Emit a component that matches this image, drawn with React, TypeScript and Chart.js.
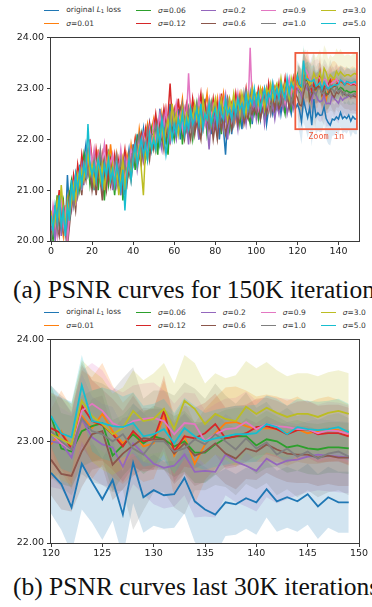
import React, { useEffect, useRef } from "react";
import { Chart, registerables } from "chart.js";
Chart.register(...registerables);

// ---------- series metadata ----------
const seriesColors = ["#1f77b4", "#ff7f0e", "#2ca02c", "#d62728", "#9467bd", "#8c564b", "#e377c2", "#7f7f7f", "#bcbd22", "#17becf"];
const sigmaLabels = ["", "0.01", "0.06", "0.12", "0.2", "0.6", "0.9", "1.0", "3.0", "5.0"];

// ---------- ticks ----------
const xTicksTop = [0, 20, 40, 60, 80, 100, 120, 140];
const yTicksTop = [20, 21, 22, 23, 24];
const xTicksBottom = [120, 125, 130, 135, 140, 145, 150];
const yTicksBottom = [22, 23, 24];
const zoomBox = { x0: 119, x1: 149, y0: 22.2, y1: 23.7, labelY: 22.05 };

// ---------- iterations 0..119 (top chart only) ----------
const earlyBlue = [20.0,20.4,20.1,20.7,20.3,20.9,20.5,20.2,21.3,20.6, 21.1,20.8,21.3,21.0,21.5,21.1,21.6,21.9,21.5,21.2, 21.5,21.0,21.6,21.3,21.7,21.1,21.5,21.2,21.8,21.3, 21.1,21.6,21.2,21.0,21.5,21.3,20.9,21.5,21.8,21.4, 21.9,21.5,22.1,21.7,21.9,22.2,21.6,22.0,22.3,21.8, 22.1,22.4,21.9,22.6,22.2,22.5,21.9,22.3,22.7,22.1, 22.4,22.1,22.6,22.0,22.5,22.3,22.7,22.1,22.4,22.6, 22.2,22.5,22.0,22.6,22.3,22.8,22.2,22.5,22.1,22.6, 22.3,22.7,22.0,22.5,22.2,21.7,22.4,22.6,22.1,22.5, 22.7,22.3,22.6,22.2,22.8,22.4,22.6,22.9,22.3,22.7, 22.5,22.8,22.4,22.7,22.9,22.3,22.6,22.8,22.5,22.7, 22.6,22.9,22.5,22.8,22.6,22.9,22.7,22.5,22.8,22.6];
const earlyOrange = [20.3,20.1,20.6,20.2,20.8,20.4,20.1,20.7,20.3,21.0, 20.7,21.2,20.9,21.4,21.2,21.6,21.3,21.5,21.8,21.4, 21.2,21.6,21.3,21.8,21.4,21.6,21.1,21.7,21.4,21.9, 21.5,21.2,21.7,21.4,21.1,21.6,21.3,21.7,21.5,21.9, 21.6,22.0,21.7,22.2,21.9,21.6,22.1,22.3,21.9,22.2, 22.4,22.0,22.3,21.9,22.5,22.2,22.6,22.3,22.0,22.6, 22.3,22.7,22.2,22.5,22.8,22.3,22.5,22.2,22.7,22.4, 22.6,22.3,22.7,22.4,22.2,22.6,22.9,22.4,22.6,22.3, 22.5,22.8,22.4,22.6,22.9,22.5,22.3,22.7,22.5,22.8, 22.4,22.7,22.9,22.5,22.7,22.4,22.8,22.6,23.0,22.6, 22.8,22.6,22.9,23.0,22.7,22.9,22.6,23.0,22.8,22.7, 22.9,22.7,23.0,22.8,23.1,22.8,22.9,23.1,22.8,23.0];
const earlyGreen = [20.4,20.0,20.5,20.9,20.3,20.6,20.8,20.2,20.6,20.9, 21.2,20.9,21.1,21.4,21.0,21.3,21.7,21.4,21.6,21.1, 21.4,21.2,21.7,21.0,21.5,21.3,20.8,21.4,21.1,21.6, 21.3,20.9,21.4,21.2,21.6,20.8,21.2,21.5,21.3,21.7, 21.8,21.4,22.0,21.7,22.1,21.8,21.6,22.0,21.8,22.2, 21.9,22.2,21.7,22.4,22.0,22.3,22.1,21.7,22.4,22.2, 22.0,22.5,22.2,22.6,21.9,22.4,22.2,22.6,22.3,22.0, 22.4,22.7,22.2,22.5,22.3,22.6,22.1,22.4,22.7,22.2, 22.6,22.3,22.5,22.1,22.6,22.4,22.7,22.2,22.5,22.3, 22.6,22.8,22.3,22.6,22.4,22.7,22.5,22.3,22.8,22.5, 22.7,22.4,22.8,22.6,22.4,22.9,22.6,22.8,22.7,22.5, 22.8,22.6,22.9,22.7,22.5,22.9,22.8,22.6,22.9,23.0];
const earlyRed = [20.1,20.5,20.2,20.6,21.0,20.4,20.7,20.3,20.8,20.5, 20.9,21.3,21.0,21.5,21.2,21.7,21.4,21.6,21.3,22.0, 21.6,21.3,21.8,21.5,21.2,21.7,21.4,21.9,21.3,21.6, 21.4,21.7,21.3,21.6,21.2,21.5,21.8,21.4,21.6,21.3, 21.7,22.0,21.6,21.9,22.1,21.8,22.2,21.9,22.3,22.0, 22.2,22.5,22.1,22.4,22.2,22.6,22.3,22.5,23.1,22.4, 22.6,22.3,22.8,22.4,22.6,22.2,22.7,22.5,22.3,22.8, 22.5,22.3,22.6,22.9,22.4,22.7,22.3,22.6,22.5,22.8, 22.4,22.7,22.5,22.9,22.3,22.6,22.8,22.4,22.7,22.5, 22.9,22.6,22.8,22.5,22.7,23.0,22.6,22.8,22.5,22.9, 22.7,23.0,22.8,22.6,22.9,22.7,23.1,22.8,22.6,23.0, 22.8,23.1,22.7,22.9,23.2,22.8,23.0,22.9,23.2,22.9];
const earlyPurple = [20.2,20.6,20.0,20.5,20.7,20.1,20.6,20.4,20.2,20.8, 20.6,21.0,21.3,20.9,21.2,21.5,21.1,21.6,21.3,21.5, 21.1,21.5,21.2,21.6,21.3,21.0,21.5,21.2,21.6,21.4, 21.0,21.5,21.1,21.4,20.9,21.3,21.6,21.2,21.4,21.7, 21.5,21.8,21.4,21.7,22.0,21.6,21.9,21.7,22.1,21.8, 22.0,21.8,22.3,22.0,21.8,22.4,22.1,22.3,21.9,22.5, 22.2,22.0,22.4,22.2,22.6,22.1,22.3,21.9,22.5,22.2, 22.3,22.6,22.0,22.4,22.2,22.5,22.3,21.8,22.4,22.2, 22.5,22.1,22.4,22.6,22.2,22.5,22.0,22.4,22.6,22.3, 22.5,22.2,22.7,22.4,22.6,22.3,22.7,22.5,22.4,22.8, 22.4,22.7,22.5,22.8,22.3,22.6,22.8,22.5,22.7,22.4, 22.7,22.5,22.8,22.6,22.9,22.5,22.7,22.9,22.6,22.8];
const earlyBrown = [20.5,20.2,20.7,20.3,20.1,20.6,20.2,20.5,19.9,20.3, 20.7,20.9,20.6,21.1,21.3,20.9,21.4,21.2,21.7,21.4, 21.0,21.3,20.9,21.4,21.2,20.8,21.3,21.0,21.5,21.1, 21.4,21.0,21.6,21.2,21.4,21.0,21.3,21.1,21.5,21.2, 21.6,21.8,21.5,21.7,21.5,22.0,21.7,21.9,21.6,22.0, 21.8,22.1,22.3,21.9,22.1,21.8,22.2,22.0,22.4,22.1, 22.3,22.1,22.4,22.6,22.2,22.0,22.4,22.2,22.0,22.5, 22.1,22.4,22.2,22.0,22.5,22.3,22.6,22.2,22.4,22.0, 22.3,22.0,22.4,22.2,22.5,22.1,22.3,22.5,22.2,22.4, 22.6,22.3,22.5,22.7,22.3,22.5,22.4,22.7,22.5,22.6, 22.5,22.7,22.4,22.6,22.8,22.5,22.7,22.6,22.9,22.6, 22.8,22.6,22.7,23.0,22.7,22.9,22.6,22.8,22.7,22.9];
const earlyPink = [20.3,20.7,20.4,20.1,20.6,20.8,20.3,20.6,20.0,20.5, 20.8,21.1,20.7,21.2,21.4,21.0,21.5,21.3,21.6,21.9, 21.5,21.8,21.4,21.7,21.3,21.6,21.9,21.4,21.7,21.5, 21.7,21.3,21.6,21.4,21.8,21.4,21.2,21.6,21.4,21.8, 21.7,21.9,21.6,22.0,21.8,22.1,21.9,21.7,22.2,21.9, 22.3,22.0,22.2,22.5,22.1,22.3,22.6,22.2,22.4,22.6, 22.4,22.7,22.3,22.5,22.2,22.6,22.4,23.3,22.5,22.3, 22.6,22.4,22.8,22.5,22.7,22.3,22.6,22.8,22.4,22.7, 22.6,22.4,22.8,22.5,22.7,22.9,22.5,22.7,22.4,22.8, 22.6,22.9,22.5,22.8,22.6,22.9,22.6,23.8,22.7,22.9, 22.8,22.6,22.9,22.7,23.0,22.8,22.6,22.9,23.1,22.8, 23.0,22.8,23.1,22.9,22.7,23.0,23.2,22.9,23.1,23.0];
const earlyGray = [20.0,20.3,20.6,20.2,20.5,20.3,20.7,20.1,20.4,20.7, 21.0,20.7,21.2,20.9,21.3,21.1,21.4,21.7,21.3,21.5, 21.3,21.6,21.2,21.5,21.8,21.3,21.6,21.3,21.7,21.4, 21.2,21.5,21.7,21.3,21.6,21.2,21.5,21.3,21.7,21.5, 21.8,21.6,21.9,22.1,21.7,22.0,21.8,22.2,21.9,22.1, 22.1,22.3,22.0,22.2,22.4,22.0,22.3,22.1,22.5,22.3, 22.5,22.2,22.4,22.3,22.7,22.4,22.2,22.6,22.4,22.1, 22.5,22.7,22.3,22.5,22.8,22.4,22.6,22.3,22.7,22.5, 22.7,22.5,22.3,22.7,22.4,22.6,22.8,22.5,22.6,22.3, 22.7,22.5,22.8,22.4,22.9,22.6,22.8,22.5,22.7,22.9, 22.6,22.8,22.6,22.9,22.7,23.0,22.7,22.5,22.8,22.9, 22.7,22.9,23.0,22.7,22.9,22.8,23.0,22.7,22.9,23.1];
const earlyOlive = [20.6,20.2,20.4,20.8,20.5,21.1,20.6,20.3,20.8,20.5, 20.8,21.1,20.8,21.3,21.1,21.4,21.2,21.5,21.7,21.3, 21.5,21.1,21.4,21.6,21.2,21.5,21.0,21.4,21.7,21.2, 21.5,21.1,21.4,20.9,21.3,21.6,21.0,21.4,21.6,21.3, 21.6,21.8,21.5,21.9,21.4,20.9,21.8,21.6,22.0,21.8, 22.1,21.8,22.2,22.0,22.3,21.9,22.2,22.4,22.1,22.7, 22.3,22.5,22.1,22.4,22.6,22.2,22.5,22.3,22.6,22.4, 22.7,22.4,22.6,22.3,22.8,22.5,22.4,22.7,22.3,22.6, 22.8,22.4,22.6,22.8,22.5,22.7,22.4,22.8,22.6,22.9, 22.6,22.8,22.5,22.9,22.7,22.5,22.9,22.7,23.0,22.8, 22.9,22.7,23.0,22.8,22.6,23.0,22.9,23.1,22.8,23.0, 23.1,22.9,23.2,22.9,23.1,23.0,22.8,23.2,23.0,23.3];
const earlyCyan = [20.5,20.2,20.7,20.4,20.9,20.3,20.6,20.1,20.7,20.4, 21.2,20.8,21.3,21.0,21.4,21.1,21.5,21.3,22.3,21.5, 21.3,21.5,21.2,21.6,21.4,21.1,21.5,21.3,21.6,21.2, 21.4,21.1,21.5,21.3,21.0,21.4,20.6,21.3,21.6,21.2, 21.6,21.9,21.5,21.8,22.0,21.7,21.9,21.6,22.1,21.8, 22.0,21.8,22.2,21.9,22.4,22.1,21.7,22.0,22.3,22.0, 22.3,22.1,22.4,22.2,22.5,22.1,22.4,22.2,22.6,22.3, 22.4,22.6,22.3,22.7,22.2,22.5,22.4,22.7,22.3,22.5, 22.6,22.3,22.7,22.5,22.4,22.8,22.5,22.6,22.4,22.7, 22.5,22.8,22.6,22.7,22.5,22.9,22.6,22.8,22.7,23.0, 22.7,22.9,22.6,22.8,23.0,22.7,22.9,22.8,23.1,22.8, 23.0,22.8,23.1,22.9,22.8,23.2,22.9,23.1,23.0,23.1];

// ---------- iterations 120..149 (both charts) ----------
const lateBlue = [22.69,22.58,22.35,22.78,22.60,22.43,22.62,22.28,22.79,22.45,22.52,22.47,22.48,22.64,22.41,22.33,22.28,22.40,22.38,22.44,22.40,22.53,22.41,22.45,22.41,22.48,22.36,22.45,22.40,22.40];
const lateOrange = [22.97,23.10,22.93,23.25,23.13,23.27,23.10,22.98,23.08,22.95,22.98,23.25,22.86,23.05,22.78,22.97,23.08,23.18,23.19,23.15,23.12,23.13,23.12,23.08,23.12,23.08,23.10,23.12,23.11,23.06];
const lateGreen = [23.25,22.93,22.90,23.10,23.15,23.18,22.86,22.96,23.07,22.98,23.05,23.02,22.95,23.00,22.89,22.89,22.97,23.03,23.05,23.05,22.96,23.02,23.00,22.94,22.96,22.93,22.92,22.94,22.94,22.93];
const lateRed = [23.13,23.08,22.93,23.35,23.20,23.16,23.07,22.95,23.10,23.00,23.02,23.30,22.90,23.05,23.03,23.08,23.17,23.03,23.05,23.08,23.14,23.15,23.12,23.07,23.11,23.12,23.07,23.08,23.08,23.05];
const latePurple = [23.00,22.98,22.84,23.22,23.04,22.97,22.94,22.75,22.98,22.88,22.78,22.74,22.76,22.87,22.70,22.71,22.70,22.87,22.80,22.76,22.71,22.83,22.77,22.81,22.82,22.85,22.87,22.86,22.85,22.84];
const lateBrown = [22.82,22.68,22.66,22.90,23.07,23.10,22.77,22.88,22.96,23.03,23.02,23.02,22.88,22.98,22.86,22.90,22.98,22.88,22.83,22.93,22.90,22.97,22.92,22.88,22.87,22.87,22.84,22.86,22.84,22.84];
const latePink = [23.08,22.98,22.92,23.30,23.37,23.30,23.18,23.13,23.20,23.22,23.23,23.20,23.07,23.18,23.17,23.00,23.07,23.12,23.13,23.19,23.12,23.17,23.15,23.14,23.12,23.12,23.08,23.11,23.10,23.07];
const lateGray = [23.10,23.00,22.92,23.23,23.10,23.07,23.00,23.07,22.93,22.87,23.00,23.00,22.90,22.93,23.02,22.97,23.07,23.00,22.92,23.03,22.93,22.99,22.87,22.93,22.85,22.90,22.83,22.88,22.90,22.85];
const lateOlive = [23.07,23.02,22.97,23.40,23.25,23.17,23.07,23.13,23.30,23.20,23.22,23.32,23.12,23.40,23.32,23.17,23.27,23.22,23.20,23.34,23.27,23.33,23.28,23.24,23.27,23.27,23.24,23.28,23.30,23.27];
const lateCyan = [23.25,23.08,23.04,23.55,23.20,23.18,23.15,23.14,23.18,23.05,23.07,23.12,22.98,23.13,23.05,23.00,23.03,23.05,23.07,23.07,23.08,23.17,23.14,23.07,23.14,23.12,23.11,23.12,23.14,23.09];

// ---------- half-width of the shaded bands, 120..149 ----------
const spreadBlue = [0.40,0.45,0.45,0.45,0.40,0.40,0.40,0.42,0.40,0.35,0.35,0.33,0.33,0.35,0.40,0.42,0.40,0.33,0.30,0.30,0.32,0.28,0.30,0.30,0.30,0.30,0.32,0.30,0.30,0.30];
const spreadOrange = [0.35,0.40,0.40,0.45,0.50,0.50,0.45,0.40,0.40,0.35,0.35,0.35,0.40,0.35,0.40,0.35,0.35,0.35,0.35,0.35,0.32,0.33,0.32,0.32,0.32,0.30,0.32,0.32,0.30,0.30];
const spreadGreen = [0.30,0.35,0.35,0.35,0.35,0.35,0.35,0.30,0.30,0.30,0.30,0.30,0.30,0.30,0.30,0.30,0.30,0.28,0.28,0.28,0.28,0.28,0.25,0.25,0.25,0.25,0.25,0.25,0.25,0.25];
const spreadRed = [0.35,0.35,0.35,0.40,0.40,0.35,0.35,0.35,0.35,0.30,0.30,0.35,0.30,0.30,0.30,0.30,0.30,0.30,0.30,0.28,0.28,0.28,0.28,0.28,0.28,0.28,0.28,0.28,0.28,0.28];
const spreadPurple = [0.45,0.45,0.45,0.45,0.40,0.40,0.40,0.40,0.40,0.40,0.40,0.40,0.40,0.40,0.45,0.45,0.45,0.40,0.40,0.40,0.40,0.38,0.38,0.38,0.35,0.35,0.35,0.35,0.35,0.35];
const spreadBrown = [0.35,0.35,0.35,0.35,0.35,0.35,0.35,0.35,0.30,0.30,0.30,0.30,0.30,0.30,0.30,0.30,0.30,0.30,0.30,0.30,0.28,0.28,0.28,0.28,0.28,0.28,0.28,0.28,0.28,0.28];
const spreadPink = [0.35,0.35,0.35,0.40,0.40,0.40,0.35,0.35,0.35,0.35,0.35,0.30,0.30,0.30,0.30,0.30,0.30,0.30,0.30,0.30,0.28,0.28,0.28,0.28,0.28,0.28,0.28,0.28,0.28,0.28];
const spreadGray = [0.45,0.45,0.45,0.55,0.50,0.50,0.50,0.55,0.80,0.55,0.50,0.50,0.55,0.65,0.50,0.45,0.50,0.45,0.45,0.45,0.40,0.40,0.40,0.40,0.40,0.38,0.38,0.38,0.38,0.38];
const spreadOlive = [0.40,0.40,0.40,0.40,0.45,0.45,0.40,0.40,0.40,0.40,0.45,0.45,0.45,0.45,0.45,0.40,0.40,0.40,0.45,0.45,0.45,0.45,0.42,0.40,0.40,0.40,0.40,0.40,0.40,0.40];
const spreadCyan = [0.30,0.35,0.35,0.30,0.30,0.35,0.35,0.30,0.30,0.30,0.30,0.30,0.30,0.30,0.30,0.28,0.28,0.28,0.28,0.28,0.28,0.28,0.28,0.28,0.28,0.28,0.28,0.28,0.28,0.28];

const earlySeries = [earlyBlue, earlyOrange, earlyGreen, earlyRed, earlyPurple, earlyBrown, earlyPink, earlyGray, earlyOlive, earlyCyan];
const lateSeries = [lateBlue, lateOrange, lateGreen, lateRed, latePurple, lateBrown, latePink, lateGray, lateOlive, lateCyan];
const spreadSeries = [spreadBlue, spreadOrange, spreadGreen, spreadRed, spreadPurple, spreadBrown, spreadPink, spreadGray, spreadOlive, spreadCyan];
const LATE_START = 120;

// ---------- styling ----------
const TICK_FONT = { family: "'DejaVu Sans', sans-serif", size: 9.5 };
const TEXT_COLOR = "#222";
const FRAME_COLOR = "#3a3a3a";
const ZOOM_COLOR = "#ef5a3c";

function rgba(hex: string, a: number) {
  const n = parseInt(hex.slice(1), 16);
  return `rgba(${(n >> 16) & 255},${(n >> 8) & 255},${n & 255},${a})`;
}

const framePlugin = {
  id: "frame",
  afterDatasetsDraw(chart: any) {
    const { ctx, chartArea: a } = chart;
    ctx.save();
    ctx.strokeStyle = FRAME_COLOR;
    ctx.lineWidth = 1;
    ctx.strokeRect(Math.round(a.left) - 0.5, Math.round(a.top) - 0.5, Math.round(a.right - a.left) + 1, Math.round(a.bottom - a.top) + 1);
    ctx.restore();
  },
};

const zoomPlugin = {
  id: "zoombox",
  afterDatasetsDraw(chart: any) {
    const { ctx } = chart;
    const xs = chart.scales.x, ys = chart.scales.y;
    const x0 = xs.getPixelForValue(zoomBox.x0), x1 = xs.getPixelForValue(zoomBox.x1);
    const y0 = ys.getPixelForValue(zoomBox.y1), y1 = ys.getPixelForValue(zoomBox.y0);
    ctx.save();
    ctx.strokeStyle = ZOOM_COLOR;
    ctx.lineWidth = 1.8;
    ctx.strokeRect(x0, y0, x1 - x0, y1 - y0);
    ctx.fillStyle = ZOOM_COLOR;
    ctx.font = "8.5px 'DejaVu Sans Mono', monospace";
    ctx.textAlign = "center";
    ctx.textBaseline = "middle";
    ctx.fillText("Zoom in", (x0 + x1) / 2, ys.getPixelForValue(zoomBox.labelY));
    ctx.restore();
  },
};

function buildDatasets(top: boolean) {
  const ds: any[] = [];
  for (let k = 0; k < 10; k++) {
    const late = lateSeries[k];
    const spread = spreadSeries[k];
    ds.push({
      data: late.map((v, j) => ({ x: LATE_START + j, y: v - spread[j] })),
      borderWidth: 0, pointRadius: 0, fill: false, order: 20 + (9 - k),
      borderColor: "rgba(0,0,0,0)",
    });
    ds.push({
      data: late.map((v, j) => ({ x: LATE_START + j, y: v + spread[j] })),
      borderWidth: 0, pointRadius: 0, fill: "-1", order: 20 + (9 - k),
      borderColor: "rgba(0,0,0,0)", backgroundColor: rgba(seriesColors[k], top ? 0.16 : 0.2),
    });
    const pts = [] as { x: number; y: number }[];
    if (top) earlySeries[k].forEach((v, i) => pts.push({ x: i, y: v }));
    late.forEach((v, j) => pts.push({ x: LATE_START + j, y: v }));
    ds.push({
      data: pts, borderColor: seriesColors[k], borderWidth: top ? 1.5 : 1.8,
      pointRadius: 0, fill: false, tension: 0, order: 9 - k,
    });
  }
  return ds;
}

function buildConfig(top: boolean): any {
  const xt = top ? xTicksTop : xTicksBottom;
  const yt = top ? yTicksTop : yTicksBottom;
  const grid = { display: true, drawOnChartArea: false, drawTicks: true, tickLength: 4, tickColor: FRAME_COLOR, tickWidth: 1 };
  return {
    type: "line",
    data: { datasets: buildDatasets(top) },
    options: {
      animation: false,
      responsive: false,
      maintainAspectRatio: false,
      layout: { padding: { top: 7, right: 13, left: 0, bottom: 0 } },
      plugins: { legend: { display: false }, tooltip: { enabled: false }, filler: { drawTime: "beforeDatasetDraw" } },
      scales: {
        x: {
          type: "linear",
          min: xt[0], max: top ? 150 : xt[xt.length - 1],
          grid, border: { display: false },
          afterBuildTicks: (s: any) => { s.ticks = xt.map((value) => ({ value })); },
          afterFit: (s: any) => { s.height = 21; },
          ticks: { font: TICK_FONT, color: TEXT_COLOR, padding: 1, maxRotation: 0, autoSkip: false, callback: (v: any) => String(v) },
        },
        y: {
          type: "linear",
          min: yt[0], max: yt[yt.length - 1],
          grid, border: { display: false },
          afterBuildTicks: (s: any) => { s.ticks = yt.map((value) => ({ value })); },
          afterFit: (s: any) => { s.width = 51; },
          ticks: { font: TICK_FONT, color: TEXT_COLOR, padding: 3, callback: (v: any) => Number(v).toFixed(2) },
        },
      },
    },
    plugins: top ? [framePlugin, zoomPlugin] : [framePlugin],
  };
}

function ChartCanvas({ top, y }: { top: boolean; y: number }) {
  const ref = useRef<HTMLCanvasElement>(null);
  useEffect(() => {
    const chart = new Chart(ref.current as HTMLCanvasElement, buildConfig(top));
    return () => chart.destroy();
  }, [top]);
  return <canvas ref={ref} width={372} height={233} style={{ position: "absolute", left: 0, top: y, width: 372, height: 233 }} />;
}

function LegendLabel({ k }: { k: number }) {
  if (k === 0)
    return (
      <span>
        original <i>L</i>
        <sub style={{ fontSize: "70%", verticalAlign: "-0.25em", lineHeight: 1 }}>1</sub> loss
      </span>
    );
  return (
    <span>
      <i>σ</i>={sigmaLabels[k]}
    </span>
  );
}

function Legend({ y }: { y: number }) {
  const cols = [0, 1, 2, 3, 4].map((c) => [c * 2, c * 2 + 1]);
  return (
    <div
      style={{
        position: "absolute", top: y, left: 51, width: 308, display: "flex", justifyContent: "center", gap: 15,
        fontFamily: "'DejaVu Sans', sans-serif", fontSize: 7.5, color: "#333", whiteSpace: "nowrap",
      }}
    >
      {cols.map((col, ci) => (
        <div key={ci} style={{ display: "flex", flexDirection: "column" }}>
          {col.map((k) => (
            <div key={k} style={{ display: "flex", alignItems: "center", height: 13.3, lineHeight: 1 }}>
              <span style={{ display: "inline-block", width: 15, height: 0, borderTop: `1.5px solid ${seriesColors[k]}`, marginRight: 7 }} />
              <LegendLabel k={k} />
            </div>
          ))}
        </div>
      ))}
    </div>
  );
}

const captionStyle: React.CSSProperties = {
  position: "absolute", left: 13, fontFamily: "'Liberation Serif', 'Times New Roman', serif", fontSize: 25.5,
  lineHeight: "25px", color: "#111", whiteSpace: "nowrap",
};

export default function App() {
  return (
    <div style={{ position: "absolute", left: 0, top: 0, width: 372, height: 607, overflow: "hidden", background: "#fff" }}>
      <Legend y={4} />
      <ChartCanvas top={true} y={29} />
      <div style={{ ...captionStyle, top: 277 }}>(a) PSNR curves for 150K iterations</div>
      <Legend y={306} />
      <ChartCanvas top={false} y={331} />
      <div style={{ ...captionStyle, top: 574 }}>(b) PSNR curves last 30K iterations</div>
    </div>
  );
}
